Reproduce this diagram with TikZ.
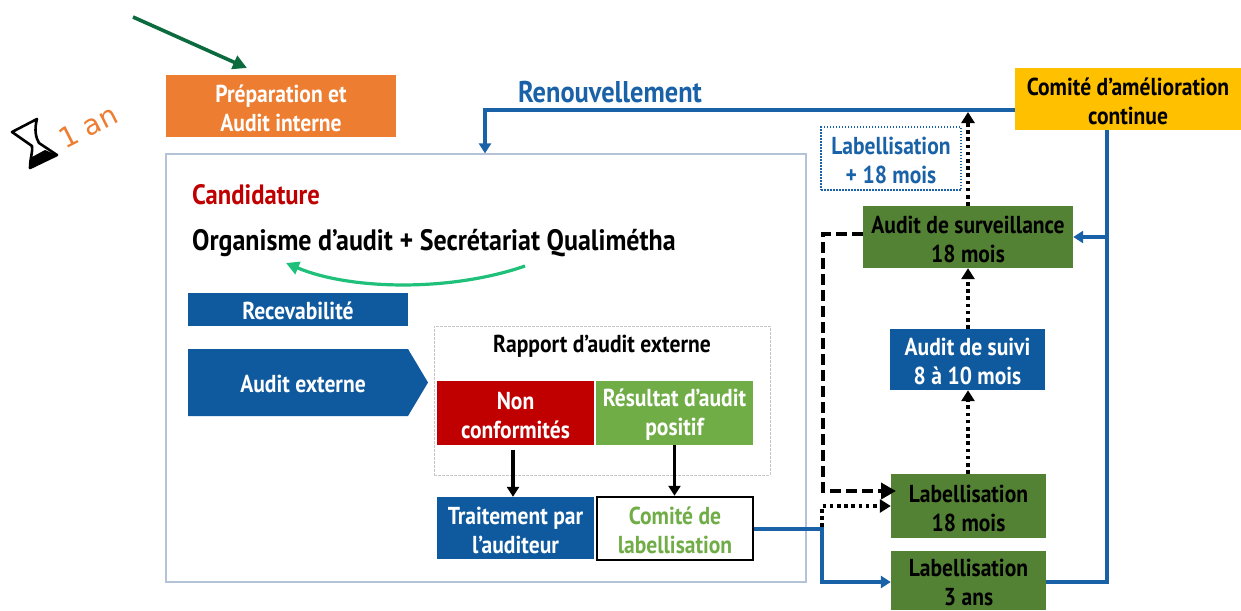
\documentclass[tikz,border=0pt]{standalone}
\usepackage{fontspec}
\setmainfont{PT Sans}[FakeStretch=0.88]
\newfontfamily\thinfont{DejaVu Sans}
\usetikzlibrary{arrows.meta,shapes.arrows,shapes.geometric}
\definecolor{cblue}{HTML}{0F5A9E}
\definecolor{lblue}{HTML}{1A62A8}
\definecolor{cgreen}{HTML}{548235}
\definecolor{lgreen}{HTML}{70AD47}
\definecolor{cred}{HTML}{C00000}
\definecolor{corange}{HTML}{ED7D31}
\definecolor{cyellow}{HTML}{FFC000}
\definecolor{frame}{HTML}{B4C3D8}
\definecolor{darkarrow}{HTML}{0B6A3E}
\definecolor{brightarrow}{HTML}{1FC07A}
\tikzset{
  x=1pt,y=-1pt,
  box/.style={draw=none,inner sep=0pt,align=center,font=\fontsize{24.5}{29}\selectfont\bfseries,text=white},
  flow/.style={lblue,line width=3.4pt,-{Triangle[length=10pt,width=12pt]}},
  flowplain/.style={lblue,line width=3.4pt},
  dots/.style={black,line width=3.6pt,dash pattern=on 3.6pt off 3.6pt,-{Triangle[length=11pt,width=13pt]}},
  dashes/.style={black,line width=3.6pt,dash pattern=on 11pt off 5pt,-{Triangle[length=15pt,width=16pt]}},
  down/.style={black,line width=3.2pt,-{Triangle[length=10pt,width=12pt]}},
}
\newcommand{\lowr}{\rule{0pt}{21.5pt}}
\newcommand{\rectnode}[7]{\node[box,minimum width=#3-#2,minimum height=#5-#4,#6] (#1) at ({(#2+#3)/2},{(#4+#5)/2}) {#7};}
\begin{document}
\begin{tikzpicture}
\useasboundingbox (0,0) rectangle (1241,610);
% main frame and report frame
\rectnode{main}{166}{806}{154}{582}{draw=frame,line width=1.2pt,fill=white}{}
\rectnode{rapport}{434}{770}{326}{475}{draw=black!22,line width=1pt,dash pattern=on 3pt off 1pt,fill=white}{}
% boxes
\rectnode{prep}{166}{396}{75}{137}{fill=corange}{\lowr Préparation et\\Audit interne}
\rectnode{comam}{1015}{1241}{68}{130}{fill=cyellow,text=black}{\lowr Comité d’amélioration\\continue}
\rectnode{recev}{188}{408}{293}{326}{fill=cblue}{\rule{0pt}{20pt}Recevabilité}
\rectnode{nonc}{437}{594}{381}{445}{fill=cred}{\lowr Non\\conformités}
\rectnode{resu}{596}{753}{381}{445}{fill=lgreen}{\lowr Résultat d’audit\\positif}
\rectnode{trait}{437}{594}{497}{559}{fill=cblue}{\lowr Traitement par\\l’auditeur}
\rectnode{comlab}{597}{753}{497}{560}{draw=black,line width=2.5pt,fill=white,text=lgreen}{\lowr Comité de\\labellisation}
\rectnode{labp}{821}{961}{127}{190}{draw=lblue,line width=1.4pt,dash pattern=on 1.5pt off 1.5pt,fill=white,text=lblue}{\lowr Labellisation\\+ 18 mois}
\rectnode{surv}{863}{1073}{206}{268}{fill=cgreen,text=black}{\lowr Audit de surveillance\\18 mois}
\rectnode{suivi}{890}{1045}{329}{390}{fill=cblue}{\lowr Audit de suivi\\8 à 10 mois}
\rectnode{labd}{891}{1046}{474}{538}{fill=cgreen,text=black}{\lowr Labellisation\\18 mois}
\rectnode{labt}{891}{1046}{551}{610}{fill=cgreen,text=black}{\lowr Labellisation\\3 ans}
% pentagon
\fill[cblue] (188,349) -- (408,349) -- (428,382.5) -- (408,416) -- (188,416) -- cycle;
\node[box] (audext) at (303,384) {Audit externe};
% free labels
\node[box,anchor=west,text=cred,font=\fontsize{28}{29}\selectfont\bfseries] (cand) at (192,195) {Candidature};
\node[box,anchor=west,text=black,font=\fontsize{29.5}{29}\selectfont\bfseries] (org) at (192,243) {Organisme d’audit + Secrétariat Qualimétha};
\node[box,text=black] (rap) at (602,346.5) {Rapport d’audit externe};
\node[box,text=lblue,font=\fontsize{30}{29}\selectfont\bfseries] (renou) at (610,92) {Renouvellement};
\node[box,text=corange,font=\fontsize{28}{29}\selectfont\thinfont,rotate=27,inner sep=0pt] (an) at (88,127) {1 an};
% hourglass
\draw[black,line width=2.6pt,line join=round] (12,132) -- (37,119) .. controls (34,130) and (36,138) .. (39,143) -- (57,155) -- (30,168) .. controls (30,158) and (33,152) .. (32,146) -- cycle;
\fill[black] (30,168) -- (57,155) -- (45,150) -- (32,157) -- cycle;
% connectors
\coordinate (gs) at (133,17);
\coordinate (ge) at (247,68);
\draw[line width=3.6pt,color=darkarrow,-{Triangle[length=14pt,width=14pt]}] (gs) -- (ge);
\draw[flow] (comam.west |- 0,110) -| (main.north -| 485,0);
\coordinate (mid) at (1107,237);
\draw[flowplain] (comam.south -| 1107,0) -- (1107,582) -- (labt.east |- 0,582);
\draw[flow] (mid) -- (surv.east |- mid);
\draw[flow] (comlab.east |- 0,529) -- (822,529) |- (labt.west |- 0,582);
\coordinate (junc) at (822,527);
\draw[dots] (junc) |- (labd.west |- 0,506);
\draw[dashes] (surv.west |- 0,234) -| (823,491) -- (896,491);
\draw[dots] (labd.north -| 968,0) -- (suivi.south -| 968,0);
\draw[dots] (suivi.north -| 968,0) -- (surv.south -| 968,0);
\draw[dots] (surv.north -| 968,0) -- (968,112);
\draw[down] (513,450) -- (trait.north -| 513,0);
\draw[down] (resu.south) -- (comlab.north -| resu.south);
% green curve
\coordinate (cs) at (525,266);
\coordinate (ce) at (286,263);
\draw[line width=3.2pt,color=brightarrow,-{Triangle[length=13pt,width=13pt]}] (cs) .. controls (450,292) and (350,290) .. (ce);
\end{tikzpicture}
\end{document}
